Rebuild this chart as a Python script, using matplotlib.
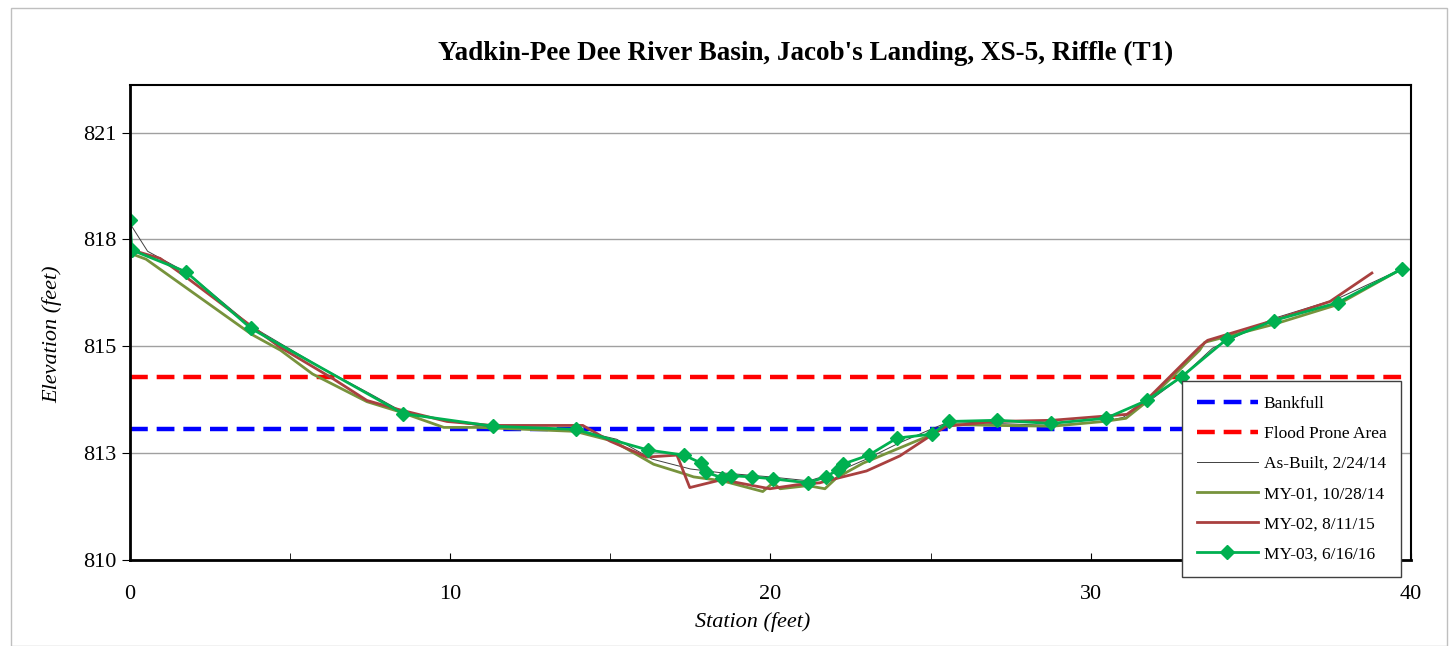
import matplotlib
matplotlib.use('Agg')
import matplotlib.pyplot as plt
import numpy as np
from matplotlib.patches import Rectangle

plt.rcParams['font.family'] = ['Liberation Serif', 'DejaVu Serif']

# cross-section survey data (station ft, elevation ft)
asbuilt_x = [0, 0.55, 1.8, 3.8, 6.0, 7.5, 8.5, 10, 11.3, 13.9, 15.2, 16.3, 17.5, 18.5, 20, 21.2,
             22.0, 23, 24, 25, 25.6, 27, 28.8, 30.4, 31, 31.8, 32.8, 33.8, 35.7, 37.7, 39.7]
asbuilt_y = [818.5, 817.8, 817.25, 815.9, 814.85, 814.2, 813.75, 813.5, 813.35, 813.3, 813.05, 812.55,
             812.3, 812.2, 812.1, 812.0, 812.2, 812.55, 812.95, 813.3, 813.5, 813.45, 813.4, 813.5,
             813.6, 814.0, 814.6, 815.35, 816.1, 816.6, 817.35]

my01_x = [0, 0.5, 3.8, 4.7, 5.7, 7.4, 8.4, 9.8, 10.9, 13.9, 15.1, 16.35, 17.3, 17.6, 18.5, 19.76,
          20.08, 20.3, 21.17, 21.7, 22.07, 22.9, 25.07, 25.5, 27.0, 28.8, 30.4, 31.1, 31.75,
          33.4, 33.56, 35.7, 37.7, 39.7]
my01_y = [817.75, 817.6, 815.7, 815.3, 814.7, 814.0, 813.75, 813.35, 813.35, 813.25, 813.0, 812.42,
          812.18, 812.1, 812.0, 811.73, 811.95, 811.8, 811.88, 811.8, 812.08, 812.45, 813.18, 813.43,
          813.4, 813.38, 813.5, 813.58, 814.0, 815.3, 815.5, 815.95, 816.45, 817.35]

my02_x = [0.06, 0.94, 1.78, 3.75, 4.68, 6.34, 7.4, 8.4, 9.9, 11.3, 12.2, 14.14, 15.0, 16.14, 17.08,
          17.48, 18.48, 19.98, 20.82, 21.54, 21.76, 23.0, 24.04, 24.98, 25.5, 27.0, 28.8, 31.13,
          31.75, 33.4, 33.65, 35.7, 37.47, 38.78]
my02_y = [817.83, 817.62, 817.13, 815.93, 815.38, 814.58, 814.03, 813.8, 813.5, 813.4, 813.4, 813.4,
          813.0, 812.6, 812.65, 811.83, 812.03, 811.8, 811.9, 811.95, 812.0, 812.25, 812.63, 813.13,
          813.38, 813.5, 813.53, 813.68, 814.05, 815.38, 815.55, 816.05, 816.53, 817.25]

my03_x = [0, 0.06, 1.75, 3.78, 8.52, 11.33, 13.92, 16.17, 17.3, 17.83, 17.98, 18.48, 18.76, 19.42,
          20.08, 21.17, 21.73, 22.1, 22.25, 23.07, 23.95, 25.04, 25.57, 27.07, 28.75, 30.47, 31.75,
          32.84, 34.25, 35.72, 37.71, 39.71]
my03_y = [818.58, 817.83, 817.28, 815.85, 813.7, 813.38, 813.3, 812.78, 812.65, 812.45, 812.22, 812.08,
          812.13, 812.1, 812.05, 811.95, 812.1, 812.28, 812.42, 812.65, 813.08, 813.18, 813.5, 813.53,
          813.45, 813.58, 814.03, 814.63, 815.58, 816.05, 816.5, 817.35]

ref_x = [0, 40]
bankfull_y = [813.3, 813.3]
flood_y = [814.625, 814.625]

fig = plt.figure(figsize=(14.54, 6.46), dpi=100)
ax = fig.add_axes([0.0894, 0.1331, 0.881, 0.7353])

# outer chart border
fig.add_artist(Rectangle((11 / 1454, 0.0), 1436 / 1454, 1 - 8 / 646, transform=fig.transFigure,
                         fill=False, edgecolor='#bfbfbf', linewidth=1))

ax.plot(ref_x, bankfull_y, color='#0000ff', linewidth=3.2, dashes=(4, 2), label='Bankfull')
ax.plot(ref_x, flood_y, color='#ff0000', linewidth=3.2, dashes=(4, 2), label='Flood Prone Area')
ax.plot(asbuilt_x, asbuilt_y, color='#404040', linewidth=0.7, label='As-Built, 2/24/14')
ax.plot(my01_x, my01_y, color='#77933c', linewidth=2, label='MY-01, 10/28/14')
ax.plot(my02_x, my02_y, color='#a9403f', linewidth=2, label='MY-02, 8/11/15')
ax.plot(my03_x, my03_y, color='#00b050', linewidth=2, marker='D', markersize=7.5,
        label='MY-03, 6/16/16')

ax.set_xlim(0, 40)
ax.set_ylim(810, 822)
yt = np.arange(810, 822, 2.7)
ax.set_yticks(yt)
ax.set_yticklabels(['%.0f' % v for v in yt], fontsize=16)
ax.set_xticks([0, 10, 20, 30, 40])
ax.set_xticks([5, 15, 25, 35], minor=True)
ax.set_xticklabels(['0', '10', '20', '30', '40'], fontsize=16)
ax.tick_params(axis='x', which='both', direction='in', length=5, pad=18)
ax.tick_params(axis='y', direction='out', length=6, pad=4)
ax.grid(True, axis='y', color='#a0a0a0', linewidth=1)
ax.set_axisbelow(True)
for side in ['left', 'bottom']:
    ax.spines[side].set_linewidth(2)
for side in ['top', 'right']:
    ax.spines[side].set_linewidth(1.5)

ax.set_xlabel('Station (feet)', fontsize=16, style='italic', va='center')
ax.xaxis.set_label_coords(0.486, -0.1305)
ax.set_ylabel('Elevation (feet)', fontsize=16, style='italic', va='center')
ax.yaxis.set_label_coords(-0.061, 0.476)
fig.text(0.5543, 0.918, "Yadkin-Pee Dee River Basin, Jacob's Landing, XS-5, Riffle (T1)",
         ha='center', va='center', fontsize=19.5, fontweight='bold')

leg = ax.legend(loc='lower left', bbox_to_anchor=(1182 / 1454, 69 / 646), bbox_transform=fig.transFigure,
                fontsize=12.5, frameon=True, fancybox=False, edgecolor='#404040', framealpha=1,
                handlelength=3.5, handletextpad=0.35, labelspacing=0.8, borderpad=0.85,
                borderaxespad=0)
leg.get_frame().set_linewidth(1)

plt.savefig('out.png', dpi=100)
